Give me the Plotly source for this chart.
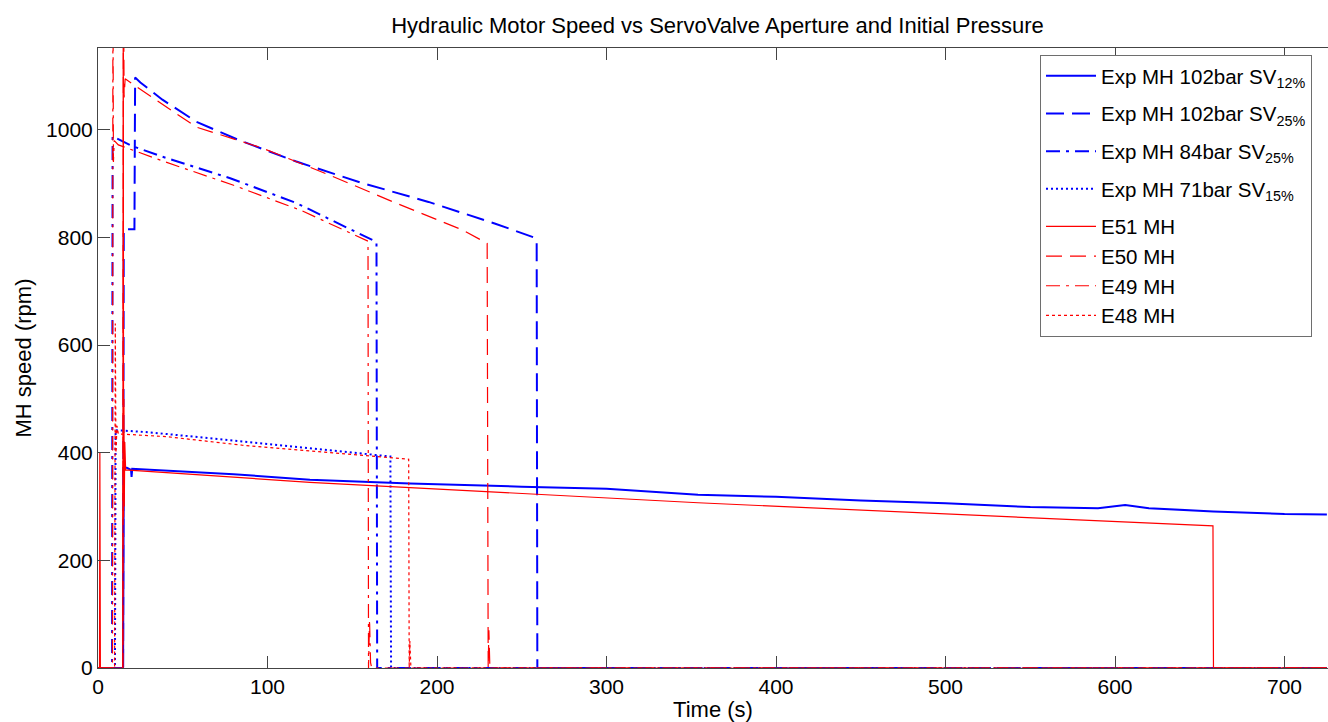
import plotly.graph_objects as go

# ---------------- data ----------------
# Experimental (blue)
t_exp102_sv12 = [0, 14.8, 15.2, 17, 19.5, 19.8, 20.2, 40, 80, 125, 184, 250, 300, 354, 400, 450, 500, 550, 590, 606, 620, 658, 700, 725]
v_exp102_sv12 = [0, 0, 372, 372, 368, 355, 370, 367, 360, 350, 343, 337, 333, 322, 318, 311, 306, 299, 297, 303, 297, 291, 286, 285]

t_exp102_sv25 = [0, 14.8, 15.2, 21.5, 21.9, 25, 38, 58, 83, 117, 156, 195, 234, 258, 258.8, 259.2, 725]
v_exp102_sv25 = [0, 0, 815, 815, 1097, 1088, 1056, 1015, 981, 941, 901, 866, 826, 799, 795, 0, 0]

t_exp84_sv25 = [0, 8.3, 8.6, 12, 20, 38, 78, 117, 156, 164, 164.3, 164.7, 725]
v_exp84_sv25 = [0, 0, 988, 983, 970, 950, 910, 864, 805, 792, 790, 0, 0]

t_exp71_sv15 = [0, 10.0, 10.4, 30, 85, 130, 172.5, 172.9, 725]
v_exp71_sv15 = [0, 0, 442, 438, 421, 406, 393, 0, 0]

# Simulations (red)
t_e51 = [0, 0.9, 1.1, 1.4, 14.6, 14.9, 15.1, 15.3, 15.5, 15.8, 16.3, 125, 354, 657.8, 658.1, 725]
v_e51 = [0, 0, 400, 0, 0, 1300, 280, 500, 300, 420, 368, 345, 307, 264, 0, 0]

t_e50 = [0, 14.7, 15.0, 15.4, 16.0, 22.7, 58, 97, 136.5, 175.7, 215, 229.6, 230.2, 230.6, 231.2, 231.8, 725]
v_e50 = [0, 0, 1300, 1060, 1095, 1080, 1005, 966, 916, 864, 814, 789, 0, 70, 0, 0, 0]

t_e49 = [0, 8.5, 8.8, 9.1, 9.6, 12, 40, 80, 120, 159.3, 159.6, 160.2, 160.8, 161.5, 725]
v_e49 = [0, 0, 1300, 940, 980, 972, 940, 897, 850, 793, 0, 90, 10, 0, 0]

t_e48 = [0, 9.8, 10.2, 10.6, 11.2, 12, 40, 85, 130, 183.3, 183.6, 184.0, 184.6, 725]
v_e48 = [0, 0, 640, 400, 450, 435, 430, 414, 402, 388, 0, 50, 0, 0]

x_ticks = [0, 100, 200, 300, 400, 500, 600, 700]
y_ticks = [0, 200, 400, 600, 800, 1000]

BLUE = "#0000FF"
RED = "#FF0000"

series = [
    ("Exp MH 102bar SV<sub>12%</sub>", t_exp102_sv12, v_exp102_sv12, BLUE, "solid", 2.0, "g1"),
    ("Exp MH 102bar SV<sub>25%</sub>", t_exp102_sv25, v_exp102_sv25, BLUE, "18px,8px", 2.0, "g2"),
    ("Exp MH 84bar SV<sub>25%</sub>", t_exp84_sv25, v_exp84_sv25, BLUE, "14px,6px,3px,6px", 2.0, "g3"),
    ("Exp MH 71bar SV<sub>15%</sub>", t_exp71_sv15, v_exp71_sv15, BLUE, "2px,3px", 2.0, "g4"),
    ("E51 MH", t_e51, v_e51, RED, "solid", 1.2, "g5"),
    ("E50 MH", t_e50, v_e50, RED, "16px,8px", 1.2, "g5"),
    ("E49 MH", t_e49, v_e49, RED, "14px,6px,3px,6px", 1.2, "g5"),
    ("E48 MH", t_e48, v_e48, RED, "3px,3px", 1.2, "g5"),
]

fig = go.Figure()
for name, t, v, col, dash, w, grp in series:
    fig.add_trace(go.Scatter(
        x=t, y=v, mode="lines", name=name, legendgroup=grp,
        line=dict(color=col, dash=dash, width=w),
    ))

W, H = 1328, 722
L, R, T, B = 98, 0, 48, 54
x_max = (W - L - R) / 1.695

fig.update_layout(
    width=W, height=H,
    margin=dict(l=L, r=R, t=T, b=B),
    paper_bgcolor="white", plot_bgcolor="white",
    font=dict(family="Liberation Sans, Arial, sans-serif", color="#000000"),
    title=dict(
        text="Hydraulic Motor Speed vs ServoValve Aperture and Initial Pressure",
        x=717.5 / W, xref="container", xanchor="center",
        y=(H - 25) / H, yref="container", yanchor="middle",
        font=dict(size=22, color="#000000"),
    ),
    showlegend=True,
    legend=dict(
        x=(1040 - L) / (W - L - R), y=(668 - 55) / 620,
        xanchor="left", yanchor="top",
        bgcolor="white", bordercolor="#6e6e6e", borderwidth=1,
        font=dict(size=20.5, color="#000000"),
        tracegroupgap=8, itemwidth=50,
    ),
    xaxis=dict(
        range=[0, x_max], tickvals=x_ticks, ticktext=[str(v) for v in x_ticks],
        ticks="inside", ticklen=12, tickcolor="#444444", tickwidth=1,
        showline=True, linecolor="#444444", linewidth=1, mirror="ticks",
        showgrid=False, zeroline=False,
        tickfont=dict(size=21),
        title=dict(text="Time (s)", font=dict(size=22), standoff=5),
    ),
    yaxis=dict(
        range=[0, 1152], tickvals=y_ticks, ticktext=[str(v) for v in y_ticks],
        ticks="inside", ticklen=12, tickcolor="#444444", tickwidth=1,
        showline=True, linecolor="#444444", linewidth=1, mirror=False,
        showgrid=False, zeroline=False,
        tickfont=dict(size=21),
        title=dict(text="MH speed (rpm)", font=dict(size=22), standoff=8),
    ),
)

fig.write_html("out.html")
